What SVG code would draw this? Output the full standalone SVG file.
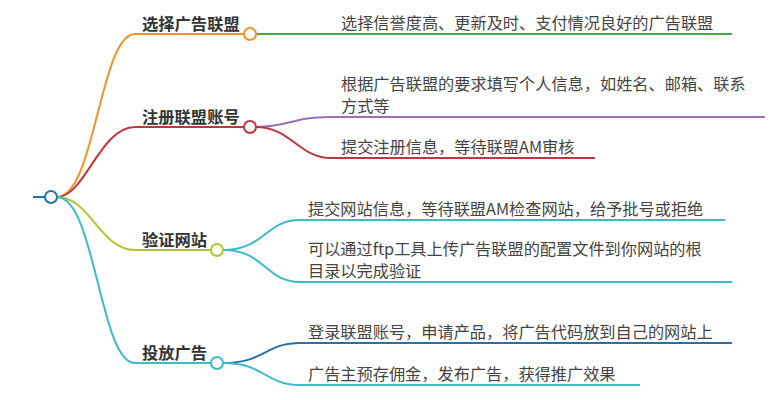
<svg xmlns="http://www.w3.org/2000/svg" width="772" height="400" viewBox="0 0 772 400">
<style>
.l{fill:none;stroke-width:2}
.m{font-family:"Noto Sans CJK SC",sans-serif;font-size:16.3px;font-weight:bold;fill:#333}
.t{font-family:"Noto Sans CJK SC",sans-serif;font-size:16.2px;fill:#444}
.c{fill:#fff;stroke-width:2}
</style>
<rect width="772" height="400" fill="#fff"/>
<g id="connectors">
<path class="l" stroke="#2a6fa8" stroke-width="3" d="M33 197H45"/>
<path class="l" stroke="#f0922a" d="M57 197C95 197 100 34 135 34H244"/>
<path class="l" stroke="#c0363a" d="M57 197C85 197 100 127 135 127H244"/>
<path class="l" stroke="#b5c230" d="M57 197C90 197 100 250 135 250H211"/>
<path class="l" stroke="#3bbcc8" d="M57 197C95 197 100 363 135 363H211"/>
<path class="l" stroke="#4aa84a" d="M256 34H732"/>
<path class="l" stroke="#9a6fc0" d="M256 127C290 127 290 117 330 117H765"/>
<path class="l" stroke="#c0363a" d="M256 127C290 127 300 158 330 158H595"/>
<path class="l" stroke="#3bbcc8" d="M223 250C265 250 265 220 300 220H725"/>
<path class="l" stroke="#3bbcc8" d="M223 250C265 250 265 282 300 282H732"/>
<path class="l" stroke="#2a6fa8" d="M223 363C265 363 265 343 300 343H732"/>
<path class="l" stroke="#3bbcc8" d="M223 363C265 363 265 385 300 385H640"/>
</g>
<g id="root"><circle class="c" cx="51" cy="197" r="6" stroke="#2a6fa8"/></g>
<g id="n1"><circle class="c" cx="250" cy="34" r="6" stroke="#f0922a"/><text class="m" x="142" y="30">选择广告联盟</text></g>
<g id="n2"><circle class="c" cx="250" cy="127" r="6" stroke="#c0363a"/><text class="m" x="142" y="123">注册联盟账号</text></g>
<g id="n3"><circle class="c" cx="217" cy="250" r="6" stroke="#b5c230"/><text class="m" x="142" y="246">验证网站</text></g>
<g id="n4"><circle class="c" cx="217" cy="363" r="6" stroke="#3bbcc8"/><text class="m" x="142" y="359">投放广告</text></g>
<g id="c1"><text class="t" x="341" y="29">选择信誉度高、更新及时、支付情况良好的广告联盟</text></g>
<g id="c2"><text class="t" x="341" y="90">根据广告联盟的要求填写个人信息，如姓名、邮箱、联系</text><text class="t" x="341" y="112">方式等</text></g>
<g id="c3"><text class="t" x="341" y="153">提交注册信息，等待联盟AM审核</text></g>
<g id="c4"><text class="t" x="308" y="215">提交网站信息，等待联盟AM检查网站，给予批号或拒绝</text></g>
<g id="c5"><text class="t" x="308" y="255">可以通过ftp工具上传广告联盟的配置文件到你网站的根</text><text class="t" x="308" y="277">目录以完成验证</text></g>
<g id="c6"><text class="t" x="308" y="338">登录联盟账号，申请产品，将广告代码放到自己的网站上</text></g>
<g id="c7"><text class="t" x="308" y="380">广告主预存佣金，发布广告，获得推广效果</text></g>
</svg>
